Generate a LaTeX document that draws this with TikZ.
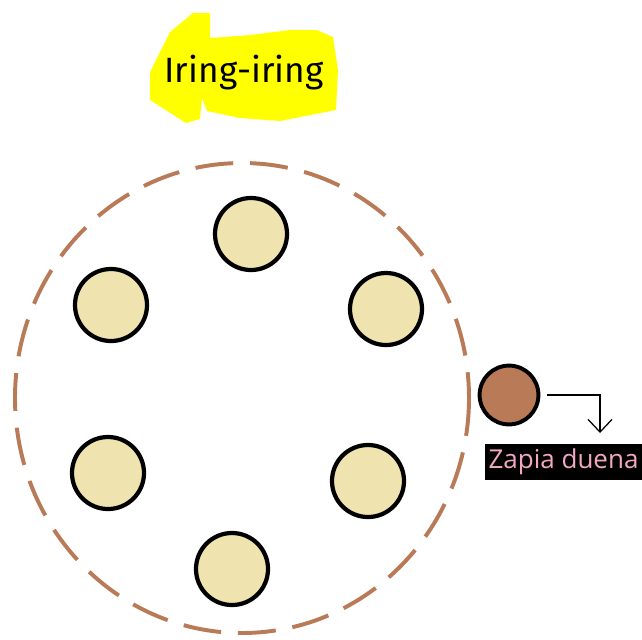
\documentclass[tikz,border=0pt]{standalone}
\usepackage{fontspec}
\usepackage{tikz}
\usetikzlibrary{arrows.meta,positioning}
\setmainfont{Open Sans}
\newfontfamily\titlefont{Fira Sans}
\definecolor{tan}{HTML}{EFE4B0}
\definecolor{clay}{HTML}{B97A57}
\definecolor{marker}{HTML}{FFFF00}
\definecolor{rosy}{HTML}{F2A8C4}

\begin{document}
\begin{tikzpicture}[x=0.025cm,y=-0.025cm,
    seat/.style={circle,draw=black,line width=3pt,fill=tan,minimum size=1.8cm,inner sep=0pt},
    guest/.style={circle,draw=black,line width=2.8pt,fill=clay,minimum size=1.47cm,inner sep=0pt}]
  \useasboundingbox[fill=white] (0,0) rectangle (642,639);
  % highlighted title
  \fill[marker] (150,72) -- (170,32) -- (193,13) -- (210,13) -- (210,38) -- (250,35)
    -- (290,30) -- (317,30) -- (333,37) -- (338,70) -- (336,110) -- (280,121)
    -- (240,118) -- (207,111) -- (202,98) -- (200,119) -- (186,123) -- (150,100) -- cycle;
  \node[font=\titlefont\fontsize{25}{30}\selectfont] (title) at (244,73) {Iring-iring};
  % ring
  \draw[clay,line width=2.8pt,dash pattern=on 27pt off 12pt] (242,398) ellipse (227 and 235);
  \node[seat] (s1) at (251,234) {};
  \node[seat] (s2) at (386,309) {};
  \node[seat] (s3) at (368,481) {};
  \node[seat] (s4) at (232,569) {};
  \node[seat] (s5) at (108,473) {};
  \node[seat] (s6) at (111,305) {};
  % outsider
  \node[guest] (zapia) at (509,395) {};
  \node[fill=black,text=rosy,font=\fontsize{18.5}{22}\selectfont,
    minimum width=3.93cm,minimum height=0.9cm,inner sep=0pt] (label) at (563.5,462) {Zapia duena};
  \coordinate (drop) at (600,433);
  \draw[line width=0.9pt,-{Straight Barb[length=9pt,width=17pt]},shorten <=5pt] (zapia.east) -| (drop);
\end{tikzpicture}
\end{document}
